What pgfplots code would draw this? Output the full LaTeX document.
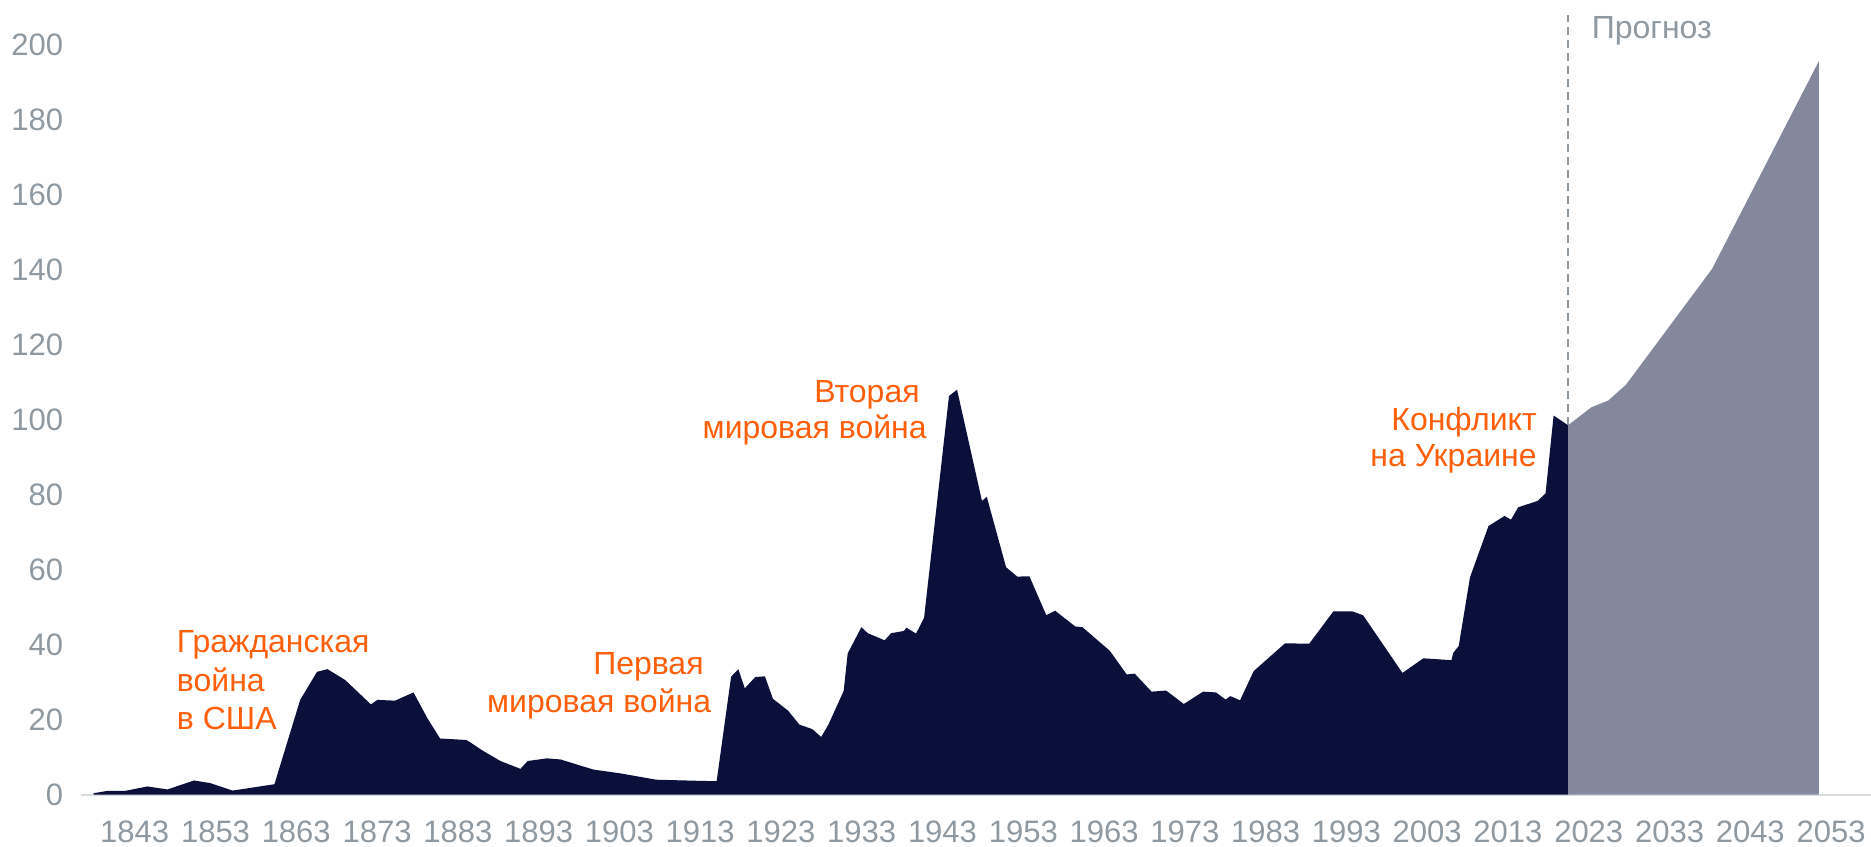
\documentclass[border=0pt]{standalone}
\usepackage{pgfplots}
\pgfplotsset{compat=1.18}
\usepackage{fontspec}
\setmainfont{Liberation Sans}
\definecolor{navy}{HTML}{0A103A}
\definecolor{fcgray}{HTML}{84889C}
\definecolor{lblgray}{HTML}{8E99A1}
\definecolor{accent}{HTML}{FF5F0A}
\definecolor{axgray}{HTML}{D8DDE1}
\begin{document}
\begin{tikzpicture}
\useasboundingbox (-40.5pt,-25.65pt) rectangle (895pt,397.35pt);
\begin{axis}[
  at={(0,0)}, anchor=south west,
  scale only axis,
  width=895pt, height=397.35pt,
  xmin=1836.74, xmax=2059.38, ymin=0, ymax=212.09,
  axis x line=bottom, axis y line=left,
  x axis line style={-, draw=axgray, line width=1pt},
  y axis line style={draw=none},
  major tick length=0pt,
  xtick={1843.42,1853.47,1863.51,1873.56,1883.61,1893.66,1903.70,1913.75,1923.80,1933.84,1943.89,1953.94,1963.99,1974.03,1984.08,1994.13,2004.17,2014.22,2024.27,2034.32,2044.36,2054.41},
  xticklabels={1843,1853,1863,1873,1883,1893,1903,1913,1923,1933,1943,1953,1963,1973,1983,1993,2003,2013,2023,2033,2043,2053},
  ytick={0,20,...,200},
  /pgf/number format/1000 sep={},
  /pgf/number format/assume math mode=true,
  xticklabel style={inner sep=0pt, anchor=north, yshift=-13pt, text=lblgray, font=\fontsize{15.5}{18}\selectfont},
  yticklabel style={inner sep=0pt, anchor=east, xshift=-8.8pt, text=lblgray, font=\fontsize{15.5}{18}\selectfont},
  clip=false,
]
\addplot[fill=navy, draw=none] coordinates {
(1838.3,0.4) (1840,1.0) (1842.2,1.0) (1845,2.2) (1847.5,1.4) (1850.8,3.8) (1852.8,3.1)
(1855.6,1.1) (1860.8,2.8) (1864,25.3) (1866.1,32.8) (1867.4,33.5) (1869.6,30.6)
(1872.8,24.1) (1873.6,25.3) (1875.8,25.1) (1878.1,27.3) (1879.8,20.5) (1881.4,15.0)
(1884.7,14.6) (1886.6,11.9) (1888.9,9.0) (1891.4,6.9) (1892.3,9.0) (1894.7,9.7)
(1896.4,9.4) (1899.1,7.6) (1900.5,6.7) (1903.8,5.7) (1908.3,4.0) (1913.7,3.7)
(1915.8,3.6) (1917.6,31.5) (1918.5,33.5) (1919.3,28.4) (1920.6,31.4) (1921.8,31.6)
(1922.8,25.6) (1924.7,22.4) (1926.1,18.7) (1927.7,17.5) (1928.8,15.4) (1929.7,18.7)
(1931.6,27.7) (1932.1,37.7) (1933.8,44.7) (1934.6,43.1) (1936.7,41.2) (1937.5,43.1)
(1939.1,43.7) (1939.4,44.6) (1940.6,43.0) (1941.6,47.2) (1944.7,106.4) (1945.7,108.1)
(1948.8,78.4) (1949.4,79.5) (1951.8,60.7) (1953.2,58.2) (1954.7,58.3) (1956.8,47.9)
(1957.9,49.1) (1960.4,44.9) (1961.3,44.7) (1964.7,38.4) (1966.8,32.1) (1967.8,32.3)
(1969.9,27.5) (1971.7,27.8) (1973.9,24.2) (1976.3,27.5) (1977.9,27.3) (1979.1,25.4)
(1979.7,26.3) (1980.9,25.2) (1982.6,33.0) (1986.5,40.4) (1989.5,40.3) (1992.5,48.9)
(1994.9,48.9) (1996.2,47.9) (2001.1,32.5) (2003.7,36.4) (2007.2,35.9) (2007.4,37.8)
(2008.1,39.7) (2009.5,58.0) (2011.8,71.7) (2013.8,74.4) (2014.6,73.4) (2015.5,76.7)
(2017.9,78.4) (2018.9,80.4) (2019.9,101.2) (2021.7,98.6)
} \closedcycle;
\addplot[fill=fcgray, draw=none] coordinates {
(2021.7,98.6) (2024.6,103.4) (2026.7,105.2) (2028.9,109.4) (2039.6,140.3) (2052.9,195.8)
} \closedcycle;
\draw[lblgray, line width=1pt, dash pattern=on 4pt off 2.5pt] (axis cs:2021.7,98.6) -- (axis cs:2021.7,208);
\begin{scope}[every node/.style={inner sep=0pt, text=accent, font=\fontsize{16}{19}\selectfont}]
\node[anchor=base west] at (axis cs:1848.63,37.82) {Гражданская};
\node[anchor=base west] at (axis cs:1848.63,27.41) {война};
\node[anchor=base west] at (axis cs:1848.63,17.27) {в США};
\node[anchor=base east] at (axis cs:1914.23,32.05) {Первая};
\node[anchor=base east] at (axis cs:1915.16,22.07) {мировая война};
\node[anchor=base east] at (axis cs:1941.10,104.62) {Вторая};
\node[anchor=base east] at (axis cs:1941.97,94.93) {мировая война};
\node[anchor=base east] at (axis cs:2017.84,97.33) {Конфликт};
\node[anchor=base east] at (axis cs:2017.84,87.51) {на Украине};
\end{scope}
\node[anchor=base west, inner sep=0pt, text=lblgray, font=\fontsize{16}{19}\selectfont] at (axis cs:2024.6,201.7) {Прогноз};
\end{axis}
\end{tikzpicture}
\end{document}
